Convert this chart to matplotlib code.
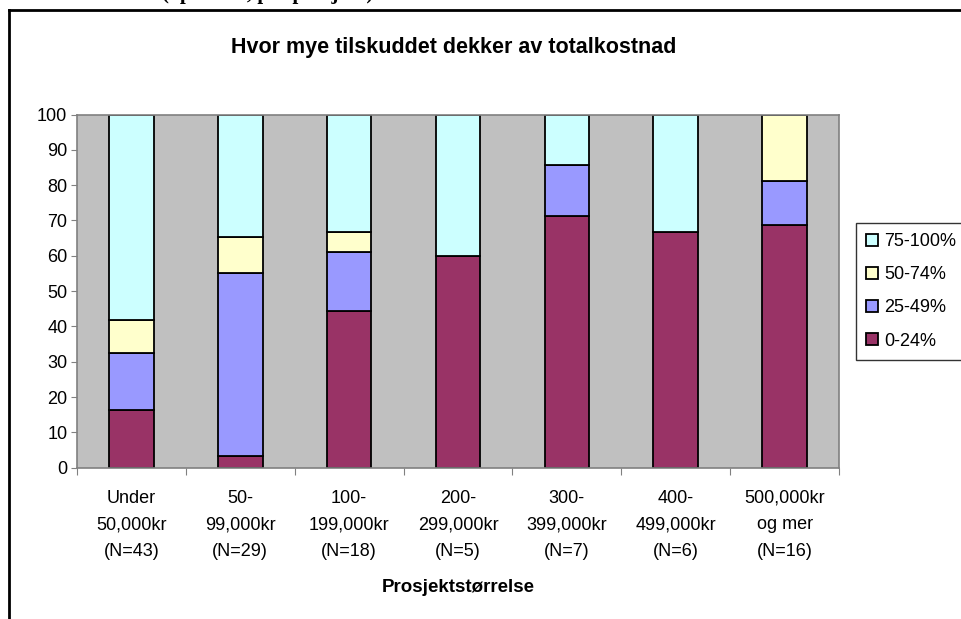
import numpy as np
import matplotlib
matplotlib.use("Agg")
import matplotlib.pyplot as plt
from matplotlib.lines import Line2D

plt.rcParams['font.family'] = ['Liberation Sans', 'DejaVu Sans']

# -------------------------------
# data (prosent per prosjektstørrelse)
# -------------------------------
categories = ["Under\n50,000kr\n(N=43)", "50-\n99,000kr\n(N=29)", "100-\n199,000kr\n(N=18)",
              "200-\n299,000kr\n(N=5)", "300-\n399,000kr\n(N=7)", "400-\n499,000kr\n(N=6)",
              "500,000kr\nog mer\n(N=16)"]
p0_24 = [16.3, 3.4, 44.4, 60.0, 71.4, 66.7, 68.75]
p25_49 = [16.3, 51.7, 16.7, 0.0, 14.3, 0.0, 12.5]
p50_74 = [9.3, 10.3, 5.6, 0.0, 0.0, 0.0, 18.75]
p75_100 = [58.1, 34.5, 33.3, 40.0, 14.3, 33.3, 0.0]
series_names = ["0-24%", "25-49%", "50-74%", "75-100%"]
colors = ["#993366", "#9999FF", "#FFFFCC", "#CCFFFF"]

W, H = 962, 619
fig = plt.figure(figsize=(W / 100, H / 100), dpi=100)

# outer chart border (only top and left visible)
fig.add_artist(Line2D([9 / W, 9 / W], [0, 1 - 10 / H], color="black", lw=2, transform=fig.transFigure))
fig.add_artist(Line2D([9 / W, 1.0], [1 - 10 / H, 1 - 10 / H], color="black", lw=2, transform=fig.transFigure))

# cut off caption above the chart (only the descenders show)
fig.text(0.168, 1 + 1 / H, "(i prosent, per prosjekt)", fontsize=15, fontweight="bold",
         family="Liberation Serif", va="baseline", ha="left")

ax = fig.add_axes([77 / W, 1 - 467.7 / H, 762 / W, 353.2 / H])
ax.set_facecolor("#C0C0C0")

x = np.arange(len(categories))
bottom = np.zeros(len(categories))
for vals, name, c in zip([p0_24, p25_49, p50_74, p75_100], series_names, colors):
    ax.bar(x, vals, 0.41, bottom=bottom, color=c, edgecolor="black", linewidth=1.3, label=name)
    bottom += np.array(vals)

ax.set_xlim(-0.5, len(categories) - 0.5)
ax.set_ylim(0, 100)
ax.set_yticks(np.arange(0, 101, 10))
ax.tick_params(axis="y", labelsize=13, length=4, color="#808080", pad=3)
ax.set_xticks(np.arange(-0.5, len(categories), 1.0))
ax.set_xticklabels([])
ax.tick_params(axis="x", length=5, color="#808080")
for i, lab in enumerate(categories):
    ax.text(i, -6.3, lab, ha="center", va="top", fontsize=13, linespacing=1.72,
            transform=ax.transData)

for s in ax.spines.values():
    s.set_color("#808080")
    s.set_linewidth(1.2)

fig.text(0.472, 1 - 47 / H, "Hvor mye tilskuddet dekker av totalkostnad",
         ha="center", va="center", fontsize=15.5, fontweight="bold")
fig.text(0.476, 1 - 588 / H, "Prosjektstørrelse", ha="center", va="center",
         fontsize=13.5, fontweight="bold")

handles, labels = ax.get_legend_handles_labels()
leg = fig.legend(handles[::-1], labels[::-1], loc="upper left",
                 bbox_to_anchor=(856 / W, 1 - 223 / H), bbox_transform=fig.transFigure,
                 fontsize=13, frameon=True, fancybox=False, edgecolor="black",
                 handlelength=0.65, handleheight=0.65, handletextpad=0.35,
                 labelspacing=0.9, borderpad=0.55, borderaxespad=0)
leg.get_frame().set_linewidth(1.0)

fig.savefig("out.png", dpi=100)
